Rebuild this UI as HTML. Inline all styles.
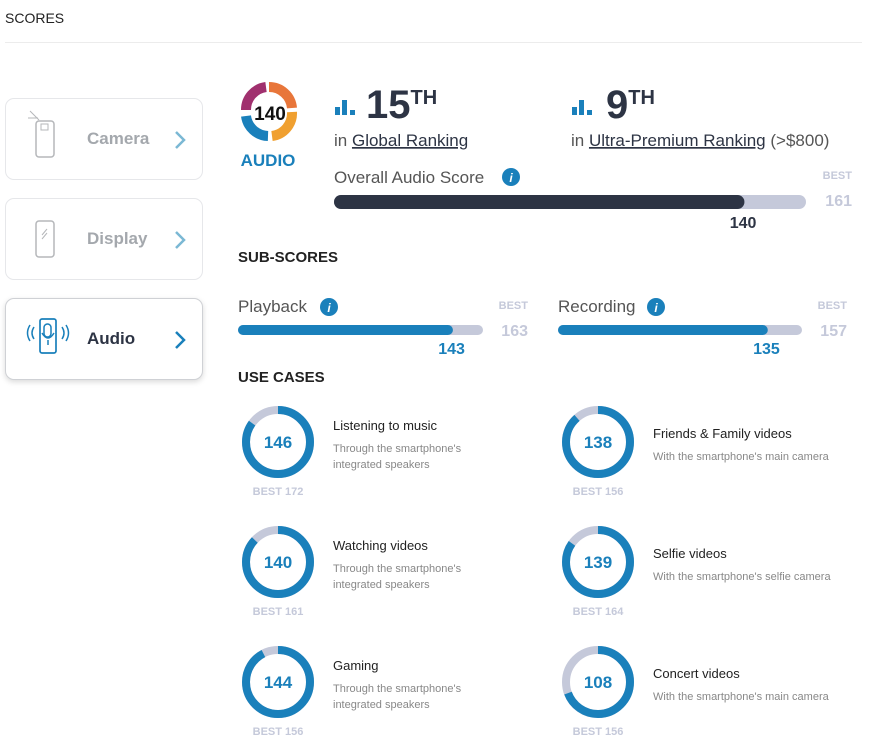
<!DOCTYPE html>
<html><head><meta charset="utf-8"><style>
body{margin:0;background:#fff;width:869px;height:750px;overflow:hidden;font-family:"Liberation Sans",sans-serif}
.card{position:absolute;left:5px;width:198px;height:82px;border:1px solid #e6e7ea;border-radius:9px;background:#fff;box-sizing:border-box}
.card .lbl{position:absolute;left:81px;top:30px;font-size:17px;font-weight:bold;color:#a4a8ad}
.card .chev{position:absolute;left:166px;top:30px}
</style></head><body>
<div style="position:absolute;left:5px;top:10px;font-size:14px;color:#222">SCORES</div>
<div style="position:absolute;left:5px;top:42px;width:857px;height:1px;background:#ececec"></div>
<div class="card" style="top:98px">
<svg width="60" height="60" style="position:absolute;left:20px;top:10px"><rect x="10" y="12" width="18" height="36" rx="3" fill="none" stroke="#b5b7ba" stroke-width="1.5"/><rect x="15" y="15" width="7" height="6" fill="none" stroke="#b5b7ba"/><line x1="4" y1="2" x2="13" y2="11" stroke="#b5b7ba"/><line x1="2" y1="9" x2="12" y2="9" stroke="#b5b7ba"/></svg>
<span class="lbl">Camera</span><svg class="chev" width="16" height="22"><polyline points="4,3 12,11 4,19" fill="none" stroke="#7bb8d4" stroke-width="2.5"/></svg></div>
<div class="card" style="top:198px">
<svg width="60" height="60" style="position:absolute;left:20px;top:12px"><rect x="10" y="10" width="18" height="36" rx="3" fill="none" stroke="#b5b7ba" stroke-width="1.5"/><line x1="16" y1="24" x2="21" y2="18" stroke="#b5b7ba"/><line x1="16" y1="28" x2="21" y2="22" stroke="#b5b7ba"/></svg>
<span class="lbl">Display</span><svg class="chev" width="16" height="22"><polyline points="4,3 12,11 4,19" fill="none" stroke="#7bb8d4" stroke-width="2.5"/></svg></div>
<div class="card" style="top:298px;box-shadow:0 2px 6px rgba(0,0,0,.15);border-color:#cfd1d5">
<svg width="60" height="60" style="position:absolute;left:16px;top:10px"><rect x="18" y="10" width="16" height="34" rx="2" fill="none" stroke="#1a80bb" stroke-width="1.7"/><rect x="22" y="15" width="7" height="13" rx="3.5" fill="none" stroke="#1a80bb" stroke-width="1.5"/><path d="M20 24 q6 10 12 0 M26 31 v5" fill="none" stroke="#1a80bb" stroke-width="1.5"/><path d="M12 18 q-4 6 0 12 M8 16 q-5 8 0 16 M40 18 q4 6 0 12 M44 16 q5 8 0 16" fill="none" stroke="#1a80bb" stroke-width="1.5"/></svg>
<span class="lbl" style="color:#2d3444">Audio</span><svg class="chev" width="16" height="22"><polyline points="4,3 12,11 4,19" fill="none" stroke="#1a80bb" stroke-width="2.5"/></svg></div>

<svg id="chart" width="869" height="750" style="position:absolute;left:0;top:0" font-family="Liberation Sans, sans-serif">
<g>
<path d="M246 110 A23 23 0 0 1 266 87" stroke="#a0306e" stroke-width="10" fill="none"/>
<path d="M269 87 A23 23 0 0 1 292 108" stroke="#e8763a" stroke-width="10" fill="none"/>
<path d="M292 112 A23 23 0 0 1 272 136" stroke="#f0a030" stroke-width="10" fill="none"/>
<path d="M268 136 A23 23 0 0 1 246 116" stroke="#1a80bb" stroke-width="10" fill="none"/>
<circle cx="269" cy="112" r="17" fill="#fff"/>
<text x="270" y="120" text-anchor="middle" font-size="19" font-weight="bold" fill="#111">140</text>
<text x="268" y="166" text-anchor="middle" font-size="17" font-weight="bold" fill="#1a80bb">AUDIO</text>
</g>
<g>
<rect x="335" y="107" width="5" height="8" fill="#1a80bb"/><rect x="342" y="100" width="5" height="15" fill="#1a80bb"/><rect x="350" y="110" width="5" height="5" fill="#1a80bb"/>
<text x="366" y="118" font-size="40" font-weight="bold" fill="#2d3444">15<tspan font-size="20" dy="-14">TH</tspan></text>
<text x="334" y="146" font-size="17" fill="#555">in <tspan text-decoration="underline" fill="#2d3444">Global Ranking</tspan></text>
</g>
<g>
<rect x="572" y="107" width="5" height="8" fill="#1a80bb"/><rect x="579" y="100" width="5" height="15" fill="#1a80bb"/><rect x="587" y="110" width="5" height="5" fill="#1a80bb"/>
<text x="606" y="118" font-size="40" font-weight="bold" fill="#2d3444">9<tspan font-size="20" dy="-14">TH</tspan></text>
<text x="571" y="146" font-size="17" fill="#555">in <tspan text-decoration="underline" fill="#2d3444">Ultra-Premium Ranking</tspan> (&gt;$800)</text>
</g>
<text x="334" y="183" font-size="17" fill="#555">Overall Audio Score</text>
<g><circle cx="511" cy="177" r="9" fill="#1a80bb"/><text x="511" y="182" text-anchor="middle" font-size="12" font-weight="bold" fill="#fff" font-style="italic">i</text></g>
<text x="238" y="262" font-size="15" font-weight="bold" fill="#222">SUB-SCORES</text>
<text x="238" y="312" font-size="17" fill="#555">Playback</text>
<g><circle cx="329" cy="307" r="9" fill="#1a80bb"/><text x="329" y="312" text-anchor="middle" font-size="12" font-weight="bold" fill="#fff" font-style="italic">i</text></g>
<text x="558" y="312" font-size="17" fill="#555">Recording</text>
<g><circle cx="656" cy="307" r="9" fill="#1a80bb"/><text x="656" y="312" text-anchor="middle" font-size="12" font-weight="bold" fill="#fff" font-style="italic">i</text></g>
<text x="238" y="382" font-size="15" font-weight="bold" fill="#222">USE CASES</text>
<g id="marks"></g>
</svg>
<script>
const barNames=["overall","playback","recording"];
const barScores=[140,143,135];
const barBests=[161,163,157];
const caseNames=["Listening to music","Watching videos","Gaming","Friends & Family videos","Selfie videos","Concert videos"];
const caseScores=[146,140,144,138,139,108];
const caseBests=[172,161,156,156,164,156];
const caseSubs=[["Through the smartphone's","integrated speakers"],["Through the smartphone's","integrated speakers"],["Through the smartphone's","integrated speakers"],["With the smartphone's main camera"],["With the smartphone's selfie camera"],["With the smartphone's main camera"]];

const NS="http://www.w3.org/2000/svg";
const g=document.getElementById('marks');
function mk(t,a,txt){const e=document.createElementNS(NS,t);for(const k in a)e.setAttribute(k,a[k]);if(txt!=null)e.textContent=txt;g.appendChild(e);return e;}
const barGeo=[{x:334,w:472,y:195,h:14,c:"#2d3444",lc:"#2d3444",by:175,bx:852},{x:238,w:245,y:325,h:10,c:"#1a80bb",lc:"#1a80bb",by:305,bx:528},{x:558,w:244,y:325,h:10,c:"#1a80bb",lc:"#1a80bb",by:305,bx:847}];
barNames.forEach((n,i)=>{
  const G=barGeo[i];
  const sx=v=>G.w*v/barBests[i];
  let e=mk('rect',{x:G.x,y:G.y,width:G.w,height:G.h,rx:G.h/2,fill:"#c5c9da"});
  
  
  e=mk('rect',{x:G.x,y:G.y,width:sx(barScores[i]),height:G.h,rx:G.h/2,fill:G.c});
  
  
  e=mk('text',{x:G.x+sx(barScores[i])+12,y:G.y+G.h+19,"text-anchor":"end","font-size":16,"font-weight":"bold",fill:G.lc},barScores[i]);
  
  
  e=mk('text',{x:G.bx,y:G.by+4,"text-anchor":"end","font-size":11,"font-weight":"bold",fill:"#c5c9da"},"BEST");
  
  
  e=mk('text',{x:G.bx,y:G.by+31,"text-anchor":"end","font-size":16,"font-weight":"bold",fill:"#c5c9da"},barBests[i]);
  
  
});
const R=32;
caseNames.forEach((n,i)=>{
  const col=Math.floor(i/3),row=i%3;
  const cx=col?598:278, cy=442+row*120;
  const frac=caseScores[i]/caseBests[i];
  let e=mk('circle',{cx:cx,cy:cy,r:R,fill:"none",stroke:"#c5c9da","stroke-width":8});
  
  
  const C=2*Math.PI*R;
  e=mk('circle',{cx:cx,cy:cy,r:R,fill:"none",stroke:"#1a80bb","stroke-width":8,"stroke-dasharray":(C*frac)+" "+C,transform:`rotate(-90 ${cx} ${cy})`});
  
  
  e=mk('text',{x:cx,y:cy+6,"text-anchor":"middle","font-size":17,"font-weight":"bold",fill:"#1a80bb"},caseScores[i]);
  
  
  e=mk('text',{x:cx,y:cy+53,"text-anchor":"middle","font-size":11,"font-weight":"bold",fill:"#c5c9da"},"BEST "+caseBests[i]);
  
  
  const tx=col?653:333, ty=col?cy-4:cy-12;
  e=mk('text',{x:tx,y:ty,"font-size":13,fill:"#222"},n);
  
  
  caseSubs[i].forEach((s,j)=>{
    e=mk('text',{x:tx,y:ty+22+j*16,"font-size":11,fill:"#888"},s);
    
    
  });
});
</script>
</body></html>
